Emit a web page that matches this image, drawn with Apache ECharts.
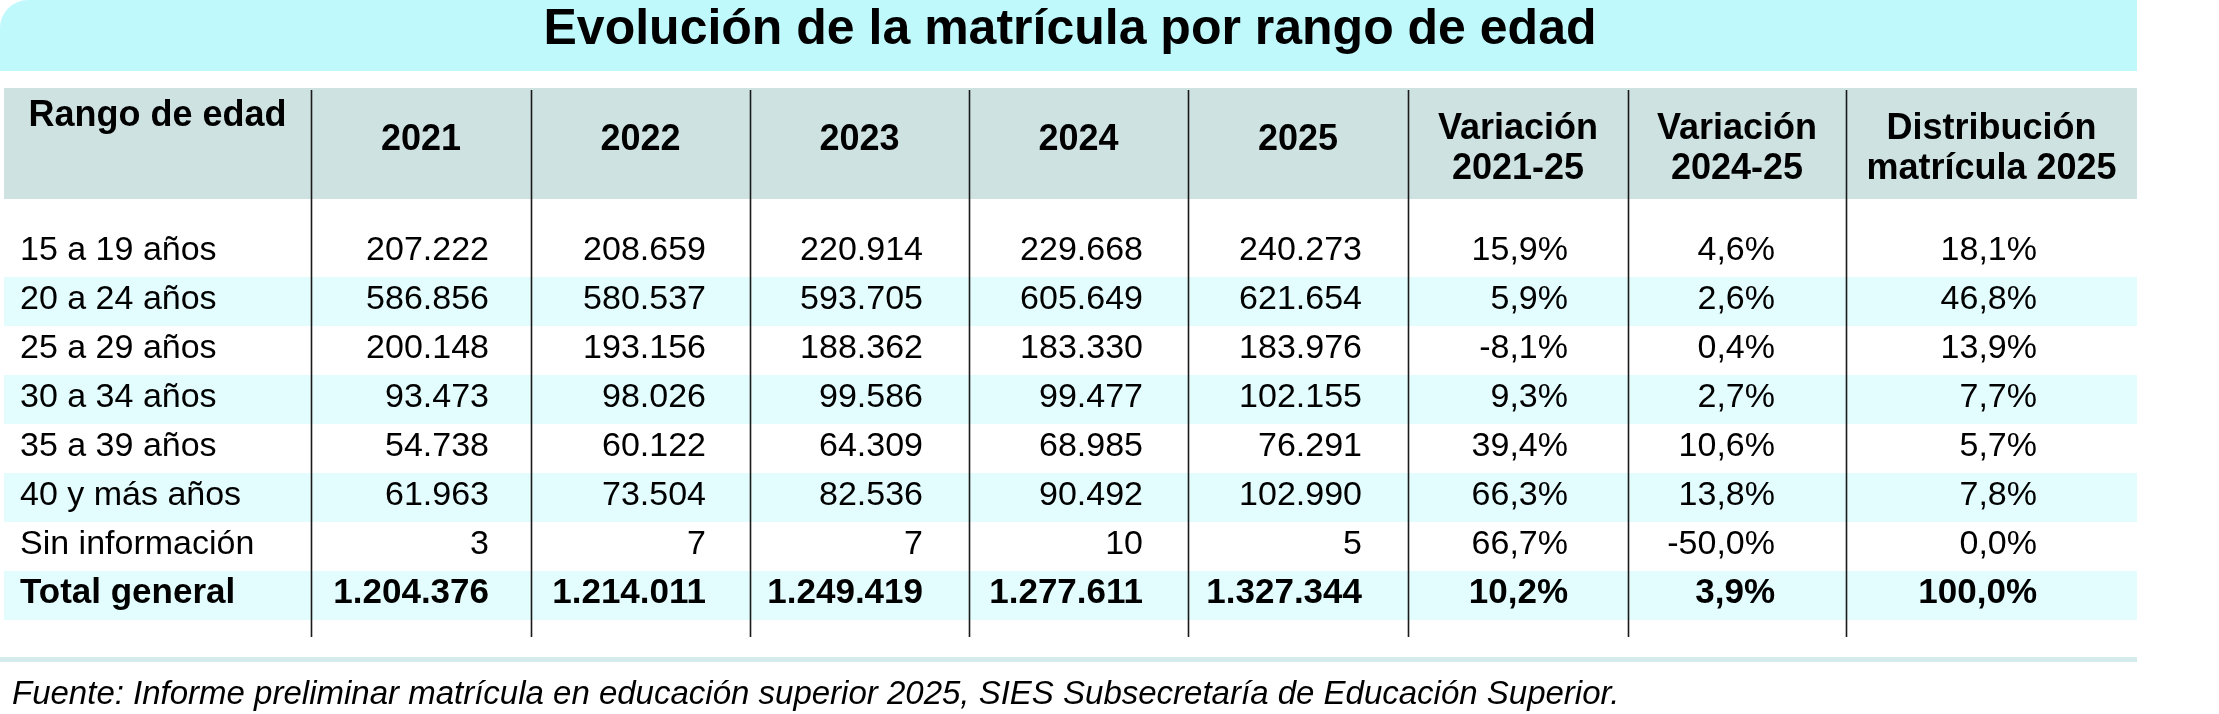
<!DOCTYPE html>
<html><head><meta charset="utf-8">
<script src="https://cdn.jsdelivr.net/npm/echarts@6/dist/echarts.min.js"></script>
<style>html,body{margin:0;padding:0;background:#fff;}#chart{width:2219px;height:714px;}</style>
</head><body><div id="chart"></div>
<script>
// ---- data ----
const titleText = 'Evolución de la matrícula por rango de edad';
const sourceText = 'Fuente: Informe preliminar matrícula en educación superior 2025, SIES Subsecretaría de Educación Superior.';
const headers = ['Rango de edad','2021','2022','2023','2024','2025','Variación\n2021-25','Variación\n2024-25','Distribución\nmatrícula 2025'];
const ageRanges = ['15 a 19 años','20 a 24 años','25 a 29 años','30 a 34 años','35 a 39 años','40 y más años','Sin información','Total general'];
const enrol2021 = [207222,586856,200148,93473,54738,61963,3,1204376];
const enrol2022 = [208659,580537,193156,98026,60122,73504,7,1214011];
const enrol2023 = [220914,593705,188362,99586,64309,82536,7,1249419];
const enrol2024 = [229668,605649,183330,99477,68985,90492,10,1277611];
const enrol2025 = [240273,621654,183976,102155,76291,102990,5,1327344];
const var2021_25 = [15.9,5.9,-8.1,9.3,39.4,66.3,66.7,10.2];
const var2024_25 = [4.6,2.6,0.4,2.7,10.6,13.8,-50.0,3.9];
const dist2025 = [18.1,46.8,13.9,7.7,5.7,7.8,0.0,100.0];

// ---- layout / style ----
const EDGES = [4,311,531,750,969,1188,1408,1628,1846,2137];
const RIGHT_PAD = [0,42,44,46,45,46,60,71,100];
const FONT = '"Liberation Sans", Arial, Helvetica, sans-serif';
const INK = '#000';

const fmtInt = v => String(v).replace(/\B(?=(\d{3})+(?!\d))/g, '.');
const fmtPct = v => v.toFixed(1).replace('.', ',') + '%';
const cells = [
  ageRanges,
  enrol2021.map(fmtInt), enrol2022.map(fmtInt), enrol2023.map(fmtInt),
  enrol2024.map(fmtInt), enrol2025.map(fmtInt),
  var2021_25.map(fmtPct), var2024_25.map(fmtPct), dist2025.map(fmtPct)
];

const chart = echarts.init(document.getElementById('chart'), null, {renderer:'canvas', width:2219, height:714});
const HEADER_TOP = 88, HEADER_H = 111;

const option = {
  animation: false,
  backgroundColor: '#ffffff',
  grid: [
    {left:0, top:HEADER_TOP, width:2219, height:HEADER_H},
    {left:0, top:228, width:2219, height:392}
  ],
  xAxis: [
    {type:'value', gridIndex:0, min:0, max:2219, show:false},
    {type:'value', gridIndex:1, min:0, max:2219, show:false}
  ],
  yAxis: [
    {type:'category', gridIndex:0, data:['header'], show:false},
    {type:'category', gridIndex:1, data:ageRanges, inverse:true, show:false}
  ],
  graphic: [
    {type:'rect', z:1, shape:{x:0, y:0, width:2137, height:71, r:[28,0,0,0]}, style:{fill:'#c0f9fc'}},
    {type:'text', z:2, x:1070, y:30, style:{text:titleText, font:'bold 50px ' + FONT, align:'center', verticalAlign:'middle', textAlign:'center', textVerticalAlign:'middle', fill:INK}},
    {type:'rect', z:1, shape:{x:0, y:657, width:2137, height:5}, style:{fill:'#d4ecec'}},
    {type:'text', z:2, x:12, y:695, style:{text:sourceText, font:'italic 33px ' + FONT, align:'left', verticalAlign:'middle', textAlign:'left', textVerticalAlign:'middle', fill:INK}}
  ],
  series: [
    {
      type:'custom', xAxisIndex:0, yAxisIndex:0, z:2,
      data: headers.map((h,i)=>[i, 0]),
      renderItem(params, api){
        const i = api.value(0);
        const cs = params.coordSys;
        const x0 = api.coord([EDGES[i], 0])[0];
        const x1 = api.coord([EDGES[i+1], 0])[0];
        const twoLine = headers[i].indexOf('\n') >= 0;
        const ty = i === 0 ? cs.y + 28 : cs.y + (twoLine ? 61.5 : 52);
        return {type:'group', children:[
          {type:'rect', shape:{x:x0, y:cs.y, width:x1-x0, height:cs.height}, style:{fill:'#cfe2e2'}},
          {type:'text', style:{text:headers[i], x:(x0+x1)/2, y:ty, align:'center', verticalAlign:'middle', font:'bold 36px ' + FONT, lineHeight:40, fill:INK}}
        ]};
      }
    },
    {
      type:'custom', xAxisIndex:1, yAxisIndex:1, z:2,
      data: ageRanges.map((r,i)=>[0, i]),
      renderItem(params, api){
        const r = api.value(1);
        const yc = api.coord([0, r])[1];
        const h = api.size([0, 1])[1];
        const children = [];
        if (r % 2 === 1) {
          const xa = api.coord([EDGES[0], r])[0];
          const xb = api.coord([EDGES[EDGES.length-1], r])[0];
          children.push({type:'rect', shape:{x:xa, y:yc-h/2, width:xb-xa, height:h}, style:{fill:'#e3fcfd'}});
        }
        const bold = r === ageRanges.length - 1;
        for (let c = 0; c < cells.length; c++) {
          let x, align;
          if (c === 0) { x = api.coord([EDGES[0], r])[0] + 16; align = 'left'; }
          else { x = api.coord([EDGES[c+1] - RIGHT_PAD[c], r])[0]; align = 'right'; }
          children.push({type:'text', style:{text:cells[c][r], x:x, y:yc-2, align:align, verticalAlign:'middle',
            font:(bold ? 'bold 35px ' : '34px ') + FONT, fill:INK}});
        }
        return {type:'group', children};
      }
    },
    {
      type:'custom', xAxisIndex:1, yAxisIndex:1, z:5,
      data: EDGES.slice(1, -1).map((e, i) => [i + 1, 0]),
      renderItem(params, api){
        const i = api.value(0);
        const cs = params.coordSys;
        const x = Math.round(api.coord([EDGES[i], 0])[0]) + 0.5;
        return {type:'line', shape:{x1:x, y1:HEADER_TOP + 2, x2:x, y2:cs.y + cs.height + 17}, style:{stroke:'#1a1a1a', lineWidth:1.6}};
      }
    }
  ]
};
chart.setOption(option);
</script>
</body></html>
